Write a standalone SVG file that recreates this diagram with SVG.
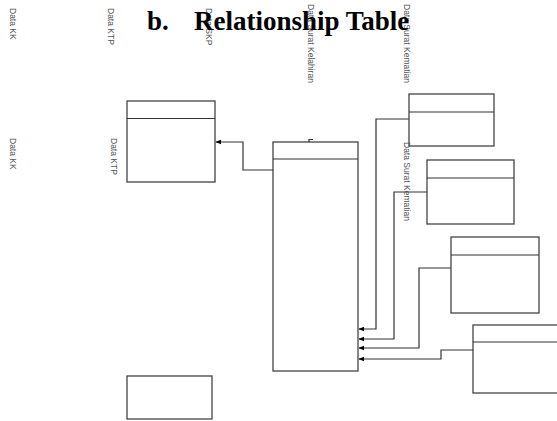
<svg xmlns="http://www.w3.org/2000/svg" width="557" height="421" viewBox="0 0 557 421">
<defs>
<style>
.t{font-family:"Liberation Sans",Arial,sans-serif;font-size:8.5px;fill:#555}
.title{font-family:"Liberation Serif","Times New Roman",serif;font-size:27px;font-weight:bold;fill:#000}
.box{fill:#fff;stroke:#444;stroke-width:1.3}
.ln{fill:none;stroke:#333;stroke-width:1.2}
</style>
<marker id="ah" viewBox="0 0 10 10" refX="9" refY="5" markerWidth="6" markerHeight="6" orient="auto" markerUnits="userSpaceOnUse">
<path d="M0,1 L10,5 L0,9 z" fill="#000"/>
</marker>
</defs>
<rect width="557" height="421" fill="#fff"/>
<g id="connectors">
<polyline class="ln" points="273,170 243,170 243,142 216,142" marker-end="url(#ah)"/>
<polyline class="ln" points="409,119 376,119 376,329 359,329" marker-end="url(#ah)"/>
<polyline class="ln" points="427,192 394,192 394,339 359,339" marker-end="url(#ah)"/>
<polyline class="ln" points="451,268 419,268 419,348 359,348" marker-end="url(#ah)"/>
<polyline class="ln" points="473,350 441,350 441,359 359,359" marker-end="url(#ah)"/>
</g>
<g id="node-ktp">
<rect class="box" x="127" y="101" width="88" height="81"/>
<line class="ln" x1="127" y1="118.5" x2="215" y2="118.5"/>
</g>
<g id="node-center">
<rect class="box" x="273" y="142" width="85" height="229"/>
<line class="ln" x1="273" y1="159" x2="358" y2="159"/>
<polyline class="ln" points="309,142 309,139.5 313,139.5"/>
</g>
<g id="node-r1">
<rect class="box" x="409" y="94" width="85" height="52"/>
<line class="ln" x1="409" y1="112" x2="494" y2="112"/>
</g>
<g id="node-r2">
<rect class="box" x="427" y="160" width="87" height="64"/>
<line class="ln" x1="427" y1="178" x2="514" y2="178"/>
</g>
<g id="node-r3">
<rect class="box" x="451" y="237" width="88" height="76"/>
<line class="ln" x1="451" y1="255" x2="539" y2="255"/>
</g>
<g id="node-r4">
<rect class="box" x="473" y="325" width="100" height="68"/>
<line class="ln" x1="473" y1="342" x2="557" y2="342"/>
</g>
<g id="node-bottom">
<rect class="box" x="127" y="376" width="85" height="43"/>
</g>
<g id="labels">
<text class="t" transform="translate(10,8) rotate(90)">Data KK</text>
<text class="t" transform="translate(108,8) rotate(90)">Data KTP</text>
<text class="t" transform="translate(206,8) rotate(90)">Data SKP</text>
<text class="t" transform="translate(308,4) rotate(90)">Data Surat Kelahiran</text>
<text class="t" transform="translate(404,4) rotate(90)">Data Surat Kematian</text>
<text class="t" transform="translate(10,138) rotate(90)">Data KK</text>
<text class="t" transform="translate(111,138) rotate(90)">Data KTP</text>
<text class="t" transform="translate(404,142) rotate(90)">Data Surat Kematian</text>
<text class="title" x="147" y="30">b.</text>
<text class="title" x="194" y="30">Relationship Table</text>
</g>
</svg>
